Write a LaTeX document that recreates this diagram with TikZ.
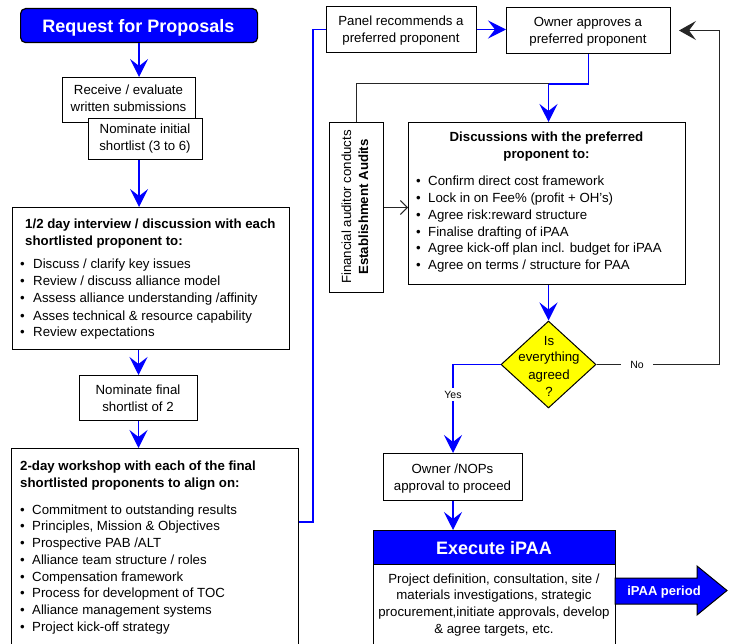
\documentclass[tikz,border=0pt]{standalone}
\usepackage{fontspec}
\setmainfont{Liberation Sans}
\usetikzlibrary{arrows.meta,shapes.geometric}
\definecolor{pblue}{RGB}{0,0,255}
\definecolor{pyellow}{RGB}{255,255,0}
\newcommand\bodyfont{\fontsize{13.25}{17}\selectfont}
\newcommand\titlefont{\bfseries\fontsize{18}{22}\selectfont}
\newcommand\labelfont{\fontsize{10.5}{12}\selectfont}

\begin{document}
\begin{tikzpicture}[x=1pt,y=-1pt,
  box/.style={draw=black, line width=1pt, fill=white, inner sep=0pt, anchor=north west},
  ln/.style={font=\bodyfont, inner sep=0pt, anchor=base},
  lnl/.style={font=\bodyfont, inner sep=0pt, anchor=base west},
  hdl/.style={font=\bodyfont\bfseries, inner sep=0pt, anchor=base west},
  flowline/.style={draw=pblue, line width=1.3pt},
  flow/.style={flowline, -{Stealth[length=18pt,width=18pt,inset=7pt]}},
  back/.style={draw=black!85, line width=1pt},
  lab/.style={font=\labelfont, fill=white, inner ysep=3pt},
]
\useasboundingbox (0,0) rectangle (731,644);

% ---------------- left column ----------------
\node[box, fill=pblue, rounded corners=5pt, line width=1.2pt,
      minimum width=237pt, minimum height=34pt] (rfp) at (20,8) {};
\node[font=\titlefont, text=white, inner sep=0pt, anchor=base] (rfp-t) at (138.5,33) {Request for Proposals};

\node[box, minimum width=133pt, minimum height=45pt] (recv) at (62,77) {};
\node[ln] (recv-a) at (128.5,95) {Receive / evaluate};
\node[ln] (recv-b) at (128.5,112) {written submissions};

\node[box, minimum width=114pt, minimum height=41pt] (nomi) at (88,118) {};
\node[ln] (nomi-a) at (145,134) {Nominate initial};
\node[ln] (nomi-b) at (145,151) {shortlist (3 to 6)};

\node[box, minimum width=277pt, minimum height=142pt] (half) at (12,207) {};
\node[hdl] (half-h1) at (25,229) {1/2 day interview / discussion with each};
\node[hdl] (half-h2) at (25,246) {shortlisted proponent to:};
\foreach \t [count=\i from 0] in {Discuss / clarify key issues,
    Review / discuss alliance model,
    Assess alliance understanding /affinity,
    Asses technical \& resource capability,
    Review expectations}{
  \node[lnl] (half-d\i) at (20,269+17*\i) {\textbullet};
  \node[lnl] (half-i\i) at (33,269+17*\i) {\t};
}

\node[box, minimum width=118pt, minimum height=45pt] (final) at (79,375) {};
\node[ln] (final-a) at (138,394) {Nominate final};
\node[ln] (final-b) at (138,411) {shortlist of 2};

\node[box, minimum width=287pt, minimum height=215pt] (two) at (11,448) {};
\node[hdl] (two-h1) at (20,470) {2-day workshop with each of the final};
\node[hdl] (two-h2) at (20,487) {shortlisted proponents to align on:};
\foreach \t [count=\i from 0] in {Commitment to outstanding results,
    {Principles, Mission \& Objectives},
    Prospective PAB /ALT,
    Alliance team structure / roles,
    Compensation framework,
    Process for development of TOC,
    Alliance management systems,
    Project kick-off strategy}{
  \node[lnl] (two-d\i) at (20,514+16.75*\i) {\textbullet};
  \node[lnl] (two-i\i) at (32,514+16.75*\i) {\t};
}

% ---------------- right column ----------------
\node[box, minimum width=150pt, minimum height=46pt] (panel) at (326,6) {};
\node[ln] (panel-a) at (401,26) {Panel recommends a};
\node[ln] (panel-b) at (401,43) {preferred proponent};

\node[box, minimum width=164pt, minimum height=46pt] (owner) at (506,7) {};
\node[ln] (owner-a) at (588,27) {Owner approves a};
\node[ln] (owner-b) at (588,44) {preferred proponent};

\node[box, minimum width=54pt, minimum height=170pt] (fin) at (329,122) {};
\node[font=\bodyfont, inner sep=0pt, anchor=base, rotate=90] (fin-a) at (351,207) {Financial auditor conducts};
\node[font=\bodyfont\bfseries, inner sep=0pt, anchor=base, rotate=90] (fin-b) at (368,207) {Establishment Audits};

\node[box, minimum width=277pt, minimum height=162pt] (disc) at (408,122) {};
\node[font=\bodyfont\bfseries, inner sep=0pt, anchor=base] (disc-h1) at (546.5,142) {Discussions with the preferred};
\node[font=\bodyfont\bfseries, inner sep=0pt, anchor=base] (disc-h2) at (546.5,159) {proponent to:};
\foreach \t [count=\i from 0] in {Confirm direct cost framework,
    Lock in on Fee\% (profit + OH's),
    Agree risk:reward structure,
    Finalise drafting of iPAA,
    Agree kick-off plan incl. budget for iPAA,
    Agree on terms / structure for PAA}{
  \node[lnl] (disc-d\i) at (416,186+16.75*\i) {\textbullet};
  \node[lnl] (disc-i\i) at (428,186+16.75*\i) {\t};
}

\node[draw=black, line width=1pt, fill=pyellow, diamond, inner sep=0pt,
      minimum width=95pt, minimum height=87pt] (dia) at (548.5,364.5) {};
\foreach \t [count=\i from 0] in {Is, everything, agreed, ?}{
  \node[ln] (dia-t\i) at (549,345+17*\i) {\t};
}

\node[box, minimum width=139pt, minimum height=47pt] (nops) at (383,453) {};
\node[ln] (nops-a) at (452.5,473.5) {Owner /NOPs};
\node[ln] (nops-b) at (452.5,490.5) {approval to proceed};

\node[box, fill=pblue, minimum width=242pt, minimum height=34pt] (exec) at (373,530) {};
\node[font=\titlefont, text=white, inner sep=0pt, anchor=base] (exec-t) at (494,554) {Execute iPAA};
\node[box, minimum width=242pt, minimum height=100pt] (execbody) at (373,564) {};
\foreach \t [count=\i from 0] in {Project definition{,} consultation{,} site /,
    materials investigations{,} strategic,
    procurement{,}initiate approvals{,} develop,
    \& agree targets{,} etc.}{
  \node[ln] (exec-l\i) at (494,583+16.9*\i) {\t};
}

% block arrow for the iPAA period
\draw[draw=black, line width=1pt, fill=pblue]
  (615,578) -- (697,578) -- (697,566) -- (727,590.5) -- (697,615) -- (697,604) -- (615,604) -- cycle;
\node[font=\bfseries\fontsize{13}{15}\selectfont, text=white, inner sep=0pt, anchor=base] (period) at (664,595) {iPAA period};

% ---------------- connectors ----------------
\draw[flow] (rfp.south) -- (rfp.south |- recv.north);
\draw[flow] (nomi.south -| rfp.south) -- (half.north -| rfp.south);
\draw[flow] (half.south -| final.north) -- (final.north);
\draw[flow] (final.south) -- (final.south |- two.north);

\draw[flowline] ([yshift=-74pt]two.north east) -- ++(14,0) |- (panel.west);
\draw[flow] (panel.east) -- (panel.east -| owner.west);

\coordinate (j) at (548.5,84);
\draw[back] (fin.north) |- (j);
\draw[flowline] (owner.south) |- (j);
\draw[flow] (j) -- (j |- disc.north);

\draw[back, -{Straight Barb[length=7pt,width=14pt]}] (fin.east) -- (fin.east -| disc.west);

\draw[flow] (dia.north |- disc.south) -- (dia.north);
\draw[back, shorten >=8pt, -{Stealth[length=17pt,width=19pt,inset=7pt]}]
  (dia.east) -- node[lab, pos=0.33, inner xsep=9pt] (no) {No} ++(123,0) |- (owner.east);
\draw[flow] (dia.west) -| node[lab, pos=0.67, inner xsep=2pt] (yes) {Yes} (nops.north);
\draw[flow] (nops.south) -- (nops.south |- exec.north);
\end{tikzpicture}
\end{document}
